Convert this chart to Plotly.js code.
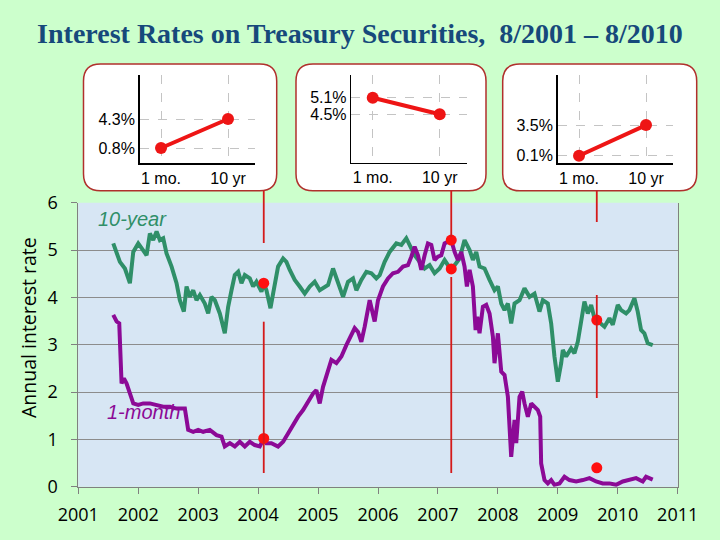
<!DOCTYPE html>
<html><head><meta charset="utf-8">
<script src="https://cdn.plot.ly/plotly-3.0.1.min.js"></script>
<style>html,body{margin:0;padding:0;background:#ccffcc}</style>
</head><body><div id="chart" style="width:720px;height:540px"></div>
<script>
// ---- data ----
const years = [2001,2002,2003,2004,2005,2006,2007,2008,2009,2010,2011];
const yearLabels = years.map(String);

const tenYearDates = [2001.583,2001.694,2001.778,2001.861,2001.917,2002.000,2002.056,2002.139,2002.194,2002.250,2002.306,2002.361,2002.417,2002.472,2002.556,2002.639,2002.694,2002.761,2002.806,2002.861,2002.917,2002.972,2003.028,2003.111,2003.167,2003.222,2003.278,2003.361,2003.444,2003.500,2003.556,2003.611,2003.667,2003.722,2003.778,2003.861,2003.917,2003.972,2004.056,2004.094,2004.139,2004.206,2004.250,2004.333,2004.417,2004.472,2004.528,2004.611,2004.694,2004.778,2004.861,2004.944,2005.028,2005.111,2005.167,2005.250,2005.333,2005.417,2005.500,2005.583,2005.639,2005.722,2005.806,2005.889,2005.972,2006.028,2006.111,2006.194,2006.306,2006.389,2006.472,2006.556,2006.611,2006.694,2006.778,2006.861,2006.944,2007.028,2007.111,2007.167,2007.222,2007.278,2007.361,2007.444,2007.528,2007.583,2007.639,2007.694,2007.778,2007.861,2007.944,2008.000,2008.056,2008.111,2008.167,2008.222,2008.278,2008.361,2008.444,2008.528,2008.611,2008.694,2008.750,2008.833,2008.889,2008.944,2009.000,2009.056,2009.083,2009.139,2009.222,2009.278,2009.333,2009.389,2009.444,2009.500,2009.556,2009.611,2009.650,2009.722,2009.778,2009.861,2009.917,2010.000,2010.056,2010.139,2010.194,2010.278,2010.333,2010.389,2010.444,2010.500,2010.583];
const tenYearRates = [5.14,4.75,4.61,4.30,4.96,5.14,5.04,4.89,5.35,5.21,5.39,5.21,5.25,4.93,4.65,4.30,3.94,3.70,4.23,4.01,4.15,3.94,4.05,3.87,3.66,4.01,3.94,3.66,3.24,3.80,4.15,4.47,4.54,4.30,4.47,4.40,4.23,4.33,4.12,4.30,4.15,3.77,4.08,4.65,4.82,4.75,4.58,4.37,4.23,4.08,4.23,4.33,4.15,4.23,4.26,4.61,4.30,4.01,4.33,4.40,4.15,4.37,4.54,4.51,4.40,4.47,4.75,4.96,5.14,5.11,5.25,5.04,4.89,4.75,4.61,4.68,4.51,4.61,4.79,4.68,4.60,4.68,4.82,5.21,5.00,4.79,4.96,4.65,4.61,4.37,4.15,4.23,3.87,3.73,3.87,3.45,3.87,3.94,4.19,4.01,4.08,3.70,3.94,3.87,3.45,2.75,2.22,2.61,2.89,2.75,2.92,2.82,3.06,3.49,3.91,3.66,3.84,3.56,3.52,3.45,3.38,3.56,3.42,3.84,3.73,3.66,3.73,3.98,3.70,3.31,3.24,3.03,2.99];

const oneMonthDates = [2001.583,2001.639,2001.683,2001.706,2001.722,2001.761,2001.806,2001.861,2001.917,2002.000,2002.083,2002.194,2002.306,2002.417,2002.528,2002.639,2002.778,2002.833,2002.917,2003.000,2003.083,2003.194,2003.306,2003.389,2003.444,2003.528,2003.611,2003.694,2003.778,2003.861,2003.944,2004.028,2004.094,2004.139,2004.222,2004.333,2004.417,2004.500,2004.583,2004.667,2004.750,2004.833,2004.917,2004.972,2005.028,2005.083,2005.167,2005.222,2005.306,2005.389,2005.472,2005.556,2005.611,2005.667,2005.722,2005.778,2005.861,2005.944,2006.000,2006.083,2006.167,2006.250,2006.333,2006.417,2006.500,2006.556,2006.611,2006.667,2006.722,2006.778,2006.833,2006.889,2006.944,2007.000,2007.056,2007.111,2007.167,2007.222,2007.278,2007.333,2007.389,2007.444,2007.483,2007.528,2007.583,2007.628,2007.656,2007.694,2007.750,2007.806,2007.861,2007.917,2007.944,2008.000,2008.056,2008.111,2008.167,2008.194,2008.222,2008.278,2008.306,2008.361,2008.406,2008.444,2008.500,2008.556,2008.611,2008.667,2008.706,2008.722,2008.778,2008.833,2008.889,2008.944,2009.028,2009.111,2009.194,2009.306,2009.417,2009.528,2009.639,2009.750,2009.861,2009.972,2010.083,2010.194,2010.306,2010.417,2010.472,2010.583];
const oneMonthRates = [3.63,3.49,3.45,2.89,2.18,2.29,2.18,1.97,1.76,1.73,1.76,1.76,1.73,1.69,1.69,1.65,1.65,1.20,1.16,1.20,1.16,1.20,1.09,1.06,0.85,0.92,0.85,0.95,0.85,0.95,0.88,0.85,1.02,0.92,0.92,0.85,0.95,1.13,1.30,1.48,1.62,1.80,1.97,2.04,1.76,2.11,2.46,2.68,2.61,2.75,2.99,3.24,3.35,3.27,3.06,3.38,3.94,3.49,3.94,4.23,4.40,4.51,4.54,4.65,4.68,4.86,5.07,4.89,4.58,4.89,5.14,5.11,4.79,4.86,4.89,5.14,5.18,5.21,4.96,4.79,4.96,4.65,4.23,4.58,4.23,3.31,3.59,3.24,3.80,3.84,3.66,3.17,2.61,3.24,2.43,2.36,1.90,1.34,0.63,1.41,0.92,1.90,2.01,1.76,1.48,1.76,1.69,1.62,1.48,0.49,0.14,0.07,0.14,0.04,0.07,0.21,0.14,0.11,0.14,0.18,0.11,0.07,0.07,0.04,0.11,0.14,0.18,0.11,0.21,0.15];

const snapshotDates = [2004.094, 2007.222, 2009.650];
const snapshotTenYear = [4.30, 4.60, 3.52];
const snapshotOneMonth = [1.02, 5.21, 0.40];

const maturities = ['1 mo.', '10 yr'];
const inset1Rates = [0.8, 4.3];
const inset2Rates = [5.1, 4.5];
const inset3Rates = [0.1, 3.5];

// ---- layout helpers (pixel -> paper) ----
const W = 720, H = 540;
const X = x => x / W;
const Y = y => 1 - y / H;
function roundRect(x0, y0, x1, y1, r) {
  const p = (x, y) => X(x).toFixed(5) + ',' + Y(y).toFixed(5);
  return 'M' + p(x0 + r, y0) + ' L' + p(x1 - r, y0) + ' Q' + p(x1, y0) + ' ' + p(x1, y0 + r) +
    ' L' + p(x1, y1 - r) + ' Q' + p(x1, y1) + ' ' + p(x1 - r, y1) +
    ' L' + p(x0 + r, y1) + ' Q' + p(x0, y1) + ' ' + p(x0, y1 - r) +
    ' L' + p(x0, y0 + r) + ' Q' + p(x0, y0) + ' ' + p(x0 + r, y0) + ' Z';
}

const GREEN = '#2f8f68', PURPLE = '#8c0a96', RED = '#ff1010';
const insetRates = [inset1Rates, inset2Rates, inset3Rates];

const traces = [
  {x: tenYearDates, y: tenYearRates, type: 'scatter', mode: 'lines', line: {color: GREEN, width: 4}, xaxis: 'x', yaxis: 'y', hoverinfo: 'skip'},
  {x: oneMonthDates, y: oneMonthRates, type: 'scatter', mode: 'lines', line: {color: PURPLE, width: 4}, xaxis: 'x', yaxis: 'y', hoverinfo: 'skip'},
  {x: snapshotDates.concat(snapshotDates), y: snapshotTenYear.concat(snapshotOneMonth), type: 'scatter', mode: 'markers', marker: {color: RED, size: 11}, xaxis: 'x', yaxis: 'y'}
];
insetRates.forEach((r, i) => {
  traces.push({x: [0, 1], y: r, type: 'scatter', mode: 'lines+markers',
    line: {color: '#ee1515', width: 4}, marker: {color: '#ee1515', size: 12},
    xaxis: 'x' + (i + 2), yaxis: 'y' + (i + 2)});
});

// inset frames (pixels)
const insetBoxes = [[83.5, 64, 276.7, 190.7], [296, 64, 486, 190.7], [502.7, 64, 696.7, 190.7]];
const insetX = [[139.6, 254.8], [351.3, 466.5], [557.6, 672.8]];
const insetYRange = [[-1.01, 9.61], [2.75, 5.92], [-0.74, 9.06]];
const insetBottom = [163, 162.7, 163.3];

const shapes = [
  {type: 'rect', xref: 'paper', yref: 'paper', x0: X(78.3), x1: X(677.7), y0: Y(486.7), y1: Y(202.7),
   fillcolor: '#d7e6f4', line: {width: 0}, layer: 'below'}
];
insetBoxes.forEach(b => shapes.push({type: 'path', xref: 'paper', yref: 'paper', path: roundRect(b[0], b[1], b[2], b[3], 17),
  fillcolor: '#ffffff', line: {color: '#b0302c', width: 1.5}, layer: 'below'}));

// connector segments (pixel y ranges)
const connectorSegs = [[[190.7, 243], [321.7, 473]], [[190.7, 237], [277, 473]], [[190.7, 222], [295, 398]]];
connectorSegs.forEach((segs, i) => segs.forEach(s => shapes.push({type: 'line', xref: 'x', yref: 'paper',
  x0: snapshotDates[i], x1: snapshotDates[i], y0: Y(s[0]), y1: Y(s[1]),
  line: {color: '#d41a1a', width: 1.8}, layer: 'above'})));

const layout = {
  width: W, height: H,
  margin: {l: 0, r: 0, t: 0, b: 0},
  paper_bgcolor: '#ccffcc', plot_bgcolor: 'rgba(0,0,0,0)',
  showlegend: false,
  title: {text: '<b>Interest Rates on Treasury Securities,\u00a0 8/2001 \u2013 8/2010</b>',
    font: {family: 'Liberation Serif', size: 28, color: '#16497b'},
    x: 0.5, xanchor: 'center', xref: 'container', y: 1 - 33 / H, yanchor: 'middle', yref: 'container'},
  xaxis: {domain: [X(78.3), X(677.7)], range: [2001, 2011], tickmode: 'array', tickvals: years, ticktext: yearLabels,
    ticks: 'outside', ticklen: 6, tickcolor: '#808080', showline: true, linecolor: '#808080', linewidth: 1,
    showgrid: false, zeroline: false, anchor: 'y', ticklabelstandoff: 6,
    tickfont: {family: 'Open Sans', size: 18, color: '#000'}, fixedrange: true},
  yaxis: {domain: [Y(486.7), Y(202.7)], range: [0, 6], tickmode: 'linear', tick0: 0, dtick: 1,
    ticks: 'outside', ticklen: 6, tickcolor: '#808080', showline: true, linecolor: '#808080', mirror: true,
    gridcolor: '#8c8c8c', gridwidth: 1, zeroline: false, anchor: 'x', ticklabelstandoff: 10,
    tickfont: {family: 'Open Sans', size: 18, color: '#000'}, fixedrange: true},
  shapes: shapes,
  annotations: [
    {x: X(28.5), y: Y(327.5), xref: 'paper', yref: 'paper', text: 'Annual interest rate', textangle: -90,
     showarrow: false, xanchor: 'center', yanchor: 'middle',
     font: {family: 'Open Sans', size: 19.5, color: '#000'}},
    {x: 2001.9, y: 5.66, xref: 'x', yref: 'y', text: '<i>10-year</i>', showarrow: false,
     font: {family: 'Liberation Sans', size: 20, color: GREEN}},
    {x: 2002.08, y: 1.58, xref: 'x', yref: 'y', text: '<i>1-month</i>', showarrow: false,
     font: {family: 'Liberation Sans', size: 20, color: PURPLE}}
  ]
};

insetRates.forEach((r, i) => {
  const n = i + 2;
  layout['xaxis' + n] = {domain: [X(insetX[i][0]), X(insetX[i][1])], range: [-0.32, 1.4], anchor: 'y' + n,
    tickmode: 'array', tickvals: [0, 1], ticktext: maturities, ticks: '', showgrid: true, griddash: 'dash',
    gridcolor: '#c4c4c4', gridwidth: 1, showline: true, linecolor: '#000', linewidth: 1.5, zeroline: false,
    ticklabelstandoff: 0, tickfont: {family: 'Liberation Sans', size: 16, color: '#000'}, fixedrange: true};
  layout['yaxis' + n] = {domain: [Y(insetBottom[i]), Y(75)], range: insetYRange[i], anchor: 'x' + n,
    tickmode: 'array', tickvals: r, ticktext: r.map(v => v.toFixed(1) + '%'), ticks: '', showgrid: true, griddash: 'dash',
    gridcolor: '#c4c4c4', gridwidth: 1, showline: true, linecolor: '#000', linewidth: 1.5, zeroline: false,
    tickfont: {family: 'Liberation Sans', size: 16, color: '#000'}, fixedrange: true};
});

Plotly.newPlot('chart', traces, layout, {displayModeBar: false, staticPlot: true});
</script>
</body></html>
